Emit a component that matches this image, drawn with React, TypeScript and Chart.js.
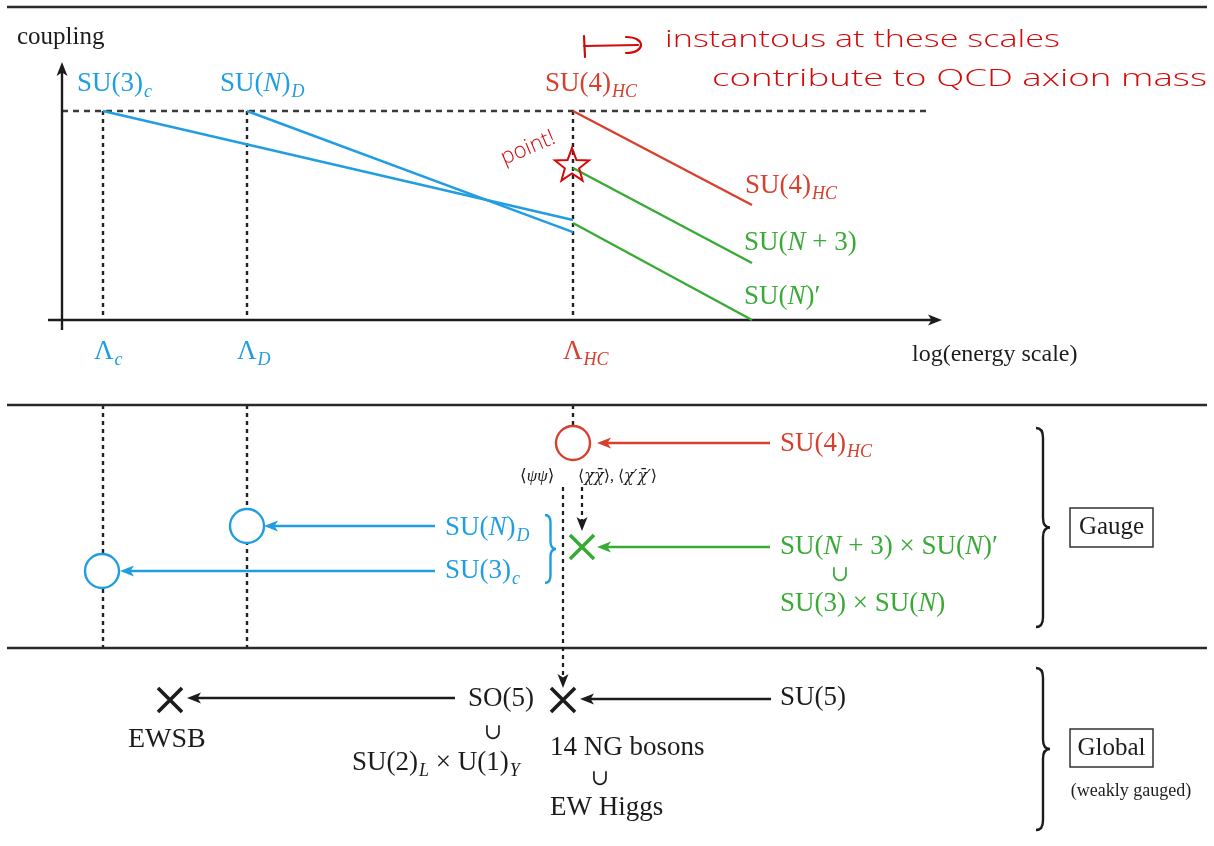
import React, { useEffect, useRef } from 'react';
import { Chart, registerables } from 'chart.js';
Chart.register(...registerables);

const W = 1214;
const H = 846;
const BLUE = '#219ee2';
const RED = '#d8402e';
const GREEN = '#3aaa36';
const INK = '#1c1c1c';
const PEN = '#d30a0a';
const SERIF = '"Liberation Serif", "DejaVu Serif", serif';

// ---- data (diagram coordinates: x = log(energy scale) position, y = coupling position) ----
const lambdaX = [103, 247, 573]; // Λc, ΛD, ΛHC
const couplingTopY = 111;
const axisY = 320;
const axisX = 62;

// running couplings [x0, y0, x1, y1]
const blueCouplings = [[lambdaX[0], 111, 573, 220], [lambdaX[1], 111, 573, 232]];
const redCouplings = [[lambdaX[2], 111, 752, 205]];
const greenCouplings = [[573, 168, 752, 263], [573, 223, 752, 320]];

// section rules
const ruleY = [7, 405, 648];
const ruleX = [7, 1207];

// dotted verticals [x, y0, y1]
const dottedLines = [
  [lambdaX[0], 111, 320], [lambdaX[1], 111, 320], [lambdaX[2], 111, 320],
  [lambdaX[0], 405, 648], [lambdaX[1], 405, 648], [lambdaX[2], 405, 426],
];

// arrows [x0, y0, x1(tip), y1(tip), colour]
const solidArrows: any[] = [
  [770, 443, 597, 443, RED],
  [770, 547, 597, 547, GREEN],
  [435, 526, 264, 526, BLUE],
  [435, 571, 120, 571, BLUE],
  [455, 698, 187, 698, INK],
  [771, 699, 580, 699, INK],
  [axisX, 330, axisX, 62, INK],
  [48, axisY, 942, axisY, INK],
];
const dashedArrows: any[] = [
  [582, 487, 582, 531, INK],
  [563, 487, 563, 688, INK],
];

// symmetry-breaking markers
const circleX = [573, 247, 102];
const circleY = [443, 526, 571];
const circleColor = [RED, BLUE, BLUE];
const crossX = [582, 170, 563];
const crossY = [547, 700, 700];
const crossColor = [GREEN, INK, INK];

// braces [x, y0, y1, width, colour]
const braces: any[] = [
  [1036, 428, 627, 14, INK],
  [1036, 668, 830, 14, INK],
  [545, 515, 583, 11, BLUE],
];
// boxed labels [x, y, w, h, text]
const boxes: any[] = [
  [1070, 508, 83, 39, 'Gauge'],
  [1070, 729, 83, 38, 'Global'],
];

type Seg = { t: string; it?: boolean; sub?: boolean; f?: string };
const S = (t: string): Seg => ({ t });
const I = (t: string): Seg => ({ t, it: true });
const B = (t: string): Seg => ({ t, sub: true, it: true });
const G = (t: string): Seg => ({ t, it: true, f: '"DejaVu Serif"' });

// text labels: segments, x, y, size, colour, align
const labels: any[] = [
  [[S('coupling')], 17, 37, 25, INK, 'left'],
  [[S('SU(3)'), B('c')], 77, 84, 27, BLUE, 'left'],
  [[S('SU('), I('N'), S(')'), B('D')], 220, 84, 27, BLUE, 'left'],
  [[S('SU(4)'), B('HC')], 545, 84, 27, RED, 'left'],
  [[S('SU(4)'), B('HC')], 745, 186, 27, RED, 'left'],
  [[S('SU('), I('N'), S(' + 3)')], 744, 243, 27, GREEN, 'left'],
  [[S('SU('), I('N'), S(')′')], 744, 297, 27, GREEN, 'left'],
  [[S('Λ'), B('c')], 94, 352, 27, BLUE, 'left'],
  [[S('Λ'), B('D')], 237, 352, 27, BLUE, 'left'],
  [[S('Λ'), B('HC')], 563, 352, 27, RED, 'left'],
  [[S('log(energy scale)')], 912, 355, 24, INK, 'left'],
  [[S('SU(4)'), B('HC')], 780, 444, 27, RED, 'left'],
  [[S('⟨'), I('ψψ'), S('⟩')], 520, 477, 17, INK, 'left'],
  [[S('⟨'), G('χχ̄'), S('⟩, ⟨'), G('χ′χ̄′'), S('⟩')], 578, 477, 16, INK, 'left'],
  [[S('SU('), I('N'), S(')'), B('D')], 445, 528, 27, BLUE, 'left'],
  [[S('SU(3)'), B('c')], 445, 571, 27, BLUE, 'left'],
  [[S('SU('), I('N'), S(' + 3) × SU('), I('N'), S(')′')], 780, 547, 27, GREEN, 'left'],
  [[S('∪')], 840, 575, 22, GREEN, 'center'],
  [[S('SU(3) × SU('), I('N'), S(')')], 780, 604, 27, GREEN, 'left'],
  [[S('EWSB')], 128, 740, 28, INK, 'left'],
  [[S('SO(5)')], 468, 699, 27, INK, 'left'],
  [[S('∪')], 493, 733, 22, INK, 'center'],
  [[S('SU(2)'), B('L'), S(' × U(1)'), B('Y')], 352, 763, 27, INK, 'left'],
  [[S('SU(5)')], 780, 698, 27, INK, 'left'],
  [[S('14 NG bosons')], 550, 748, 27, INK, 'left'],
  [[S('∪')], 600, 779, 22, INK, 'center'],
  [[S('EW Higgs')], 550, 808, 27, INK, 'left'],
  [[S('(weakly gauged)')], 1131, 791, 18, INK, 'center'],
];

// handwritten notes [text, x0, x1, y]
const notes: any[] = [
  ['instantous at these scales', 665, 1060, 40],
  ['contribute to QCD axion mass', 712, 1207, 79],
];
const starPoint = [572, 166];

function segFont(s: Seg, size: number) {
  const sz = s.sub ? Math.round(size * 0.68) : size;
  return `${s.it ? 'italic ' : ''}${sz}px ${s.f || SERIF}`;
}

function drawRich(ctx: CanvasRenderingContext2D, segs: Seg[], x: number, y: number, size: number, color: string, align: string) {
  ctx.save();
  ctx.textBaseline = 'middle';
  ctx.textAlign = 'left';
  ctx.fillStyle = color;
  let total = 0;
  const widths = segs.map((s) => {
    ctx.font = segFont(s, size);
    const w = ctx.measureText(s.t).width + (s.sub ? 1 : 0);
    total += w;
    return w;
  });
  let cx = align === 'center' ? x - total / 2 : x;
  segs.forEach((s, i) => {
    ctx.font = segFont(s, size);
    ctx.fillText(s.t, cx + (s.sub ? 1 : 0), s.sub ? y + size * 0.3 : y);
    cx += widths[i];
  });
  ctx.restore();
}

function arrowHead(ctx: CanvasRenderingContext2D, x0: number, y0: number, x1: number, y1: number, color: string) {
  const a = Math.atan2(y1 - y0, x1 - x0);
  const L = 14, hw = 5.5;
  ctx.save();
  ctx.fillStyle = color;
  ctx.beginPath();
  ctx.moveTo(x1, y1);
  ctx.lineTo(x1 - L * Math.cos(a) - hw * Math.sin(a), y1 - L * Math.sin(a) + hw * Math.cos(a));
  ctx.lineTo(x1 - L * 0.75 * Math.cos(a), y1 - L * 0.75 * Math.sin(a));
  ctx.lineTo(x1 - L * Math.cos(a) + hw * Math.sin(a), y1 - L * Math.sin(a) - hw * Math.cos(a));
  ctx.closePath();
  ctx.fill();
  ctx.restore();
}

function drawBrace(ctx: CanvasRenderingContext2D, x: number, y0: number, y1: number, w: number, color: string) {
  const ym = (y0 + y1) / 2;
  const xm = x + w / 2;
  const r = w * 0.7;
  ctx.save();
  ctx.strokeStyle = color;
  ctx.lineWidth = 2.4;
  ctx.beginPath();
  ctx.moveTo(x, y0);
  ctx.quadraticCurveTo(xm, y0, xm, y0 + r);
  ctx.lineTo(xm, ym - r);
  ctx.quadraticCurveTo(xm, ym, x + w, ym);
  ctx.quadraticCurveTo(xm, ym, xm, ym + r);
  ctx.lineTo(xm, y1 - r);
  ctx.quadraticCurveTo(xm, y1, x, y1);
  ctx.stroke();
  ctx.restore();
}

function lineDs(x0: number, y0: number, x1: number, y1: number, color: string, width: number, dash: number[] = []) {
  return {
    data: [{ x: x0, y: y0 }, { x: x1, y: y1 }],
    showLine: true,
    borderColor: color,
    borderWidth: width,
    borderDash: dash,
    pointRadius: 0,
    fill: false,
    tension: 0,
    clip: false,
  };
}

function shorten(a: any[]) {
  const [x0, y0, x1, y1] = a;
  const d = Math.hypot(x1 - x0, y1 - y0);
  return [x0, y0, x1 - ((x1 - x0) / d) * 10, y1 - ((y1 - y0) / d) * 10];
}

export default function App() {
  const ref = useRef<HTMLCanvasElement | null>(null);
  useEffect(() => {
    if (!ref.current) return;
    const datasets: any[] = [];
    // markers first (drawn on top)
    datasets.push({
      data: crossX.map((x, i) => ({ x, y: crossY[i] })),
      pointStyle: 'crossRot', pointRadius: 17, pointBorderWidth: 3.6,
      pointBorderColor: crossColor, showLine: false, clip: false,
    });
    datasets.push({
      data: circleX.map((x, i) => ({ x, y: circleY[i] })),
      pointStyle: 'circle', pointRadius: 17, pointBorderWidth: 2.4,
      pointBorderColor: circleColor, pointBackgroundColor: '#ffffff', showLine: false, clip: false,
    });
    blueCouplings.forEach((l) => datasets.push(lineDs(l[0], l[1], l[2], l[3], BLUE, 2.4)));
    redCouplings.forEach((l) => datasets.push(lineDs(l[0], l[1], l[2], l[3], RED, 2.4)));
    greenCouplings.forEach((l) => datasets.push(lineDs(l[0], l[1], l[2], l[3], GREEN, 2.4)));
    solidArrows.forEach((a) => {
      const s = shorten(a);
      datasets.push(lineDs(s[0], s[1], s[2], s[3], a[4], 2.4));
    });
    dashedArrows.forEach((a) => {
      const s = shorten(a);
      datasets.push(lineDs(s[0], s[1], s[2], s[3], a[4], 2.2, [4, 4]));
    });
    ruleY.forEach((y) => datasets.push(lineDs(ruleX[0], y, ruleX[1], y, '#2a2a2a', 2.4)));
    datasets.push(lineDs(axisX, couplingTopY, 930, couplingTopY, '#3a3a3a', 2.4, [6, 5]));
    dottedLines.forEach((d) => datasets.push(lineDs(d[0], d[1], d[0], d[2], '#222222', 2.4, [4, 4])));

    const overlay = {
      id: 'overlay',
      afterDatasetsDraw(chart: any) {
        const ctx: CanvasRenderingContext2D = chart.ctx;
        const X = (v: number) => chart.scales.x.getPixelForValue(v);
        const Y = (v: number) => chart.scales.y.getPixelForValue(v);
        [...solidArrows, ...dashedArrows].forEach((a: any[]) =>
          arrowHead(ctx, X(a[0]), Y(a[1]), X(a[2]), Y(a[3]), a[4]));
        braces.forEach((b: any[]) => drawBrace(ctx, X(b[0]), Y(b[1]), Y(b[2]), b[3], b[4]));
        boxes.forEach((b: any[]) => {
          ctx.save();
          ctx.strokeStyle = '#333';
          ctx.lineWidth = 1.5;
          ctx.strokeRect(X(b[0]), Y(b[1]), b[2], b[3]);
          ctx.restore();
          drawRich(ctx, [S(b[4])], X(b[0]) + b[2] / 2, Y(b[1]) + b[3] / 2, 25, INK, 'center');
        });
        labels.forEach((l: any[]) => drawRich(ctx, l[0], X(l[1]), Y(l[2]), l[3], l[4], l[5]));

        // handwritten annotations
        ctx.save();
        ctx.fillStyle = PEN;
        ctx.strokeStyle = PEN;
        ctx.textBaseline = 'middle';
        ctx.font = '300 23px "Open Sans", "DejaVu Sans"';
        notes.forEach((n: any[]) => {
          const w = ctx.measureText(n[0]).width;
          ctx.save();
          ctx.translate(X(n[1]), Y(n[3]));
          ctx.scale((X(n[2]) - X(n[1])) / w, 1);
          ctx.fillText(n[0], 0, 0);
          ctx.restore();
        });
        // hand-drawn arrow |->
        ctx.lineWidth = 2.2;
        ctx.lineCap = 'round';
        ctx.beginPath();
        ctx.moveTo(X(584), Y(36)); ctx.lineTo(X(585), Y(57));
        ctx.moveTo(X(584), Y(46)); ctx.lineTo(X(638), Y(45));
        ctx.moveTo(X(626), Y(37));
        ctx.bezierCurveTo(X(646), Y(37), X(646), Y(53), X(626), Y(53));
        ctx.stroke();
        // "point!"
        ctx.save();
        ctx.translate(X(528), Y(148));
        ctx.rotate(-0.4);
        ctx.font = '300 22px "Open Sans", "DejaVu Sans"';
        ctx.textAlign = 'center';
        ctx.fillText('point!', 0, 0);
        ctx.restore();
        // star
        const cx = X(starPoint[0]), cy = Y(starPoint[1]);
        ctx.lineWidth = 2;
        ctx.beginPath();
        for (let k = 0; k < 10; k++) {
          const r = k % 2 === 0 ? 18 : 7.5;
          const ang = -Math.PI / 2 + (k * Math.PI) / 5;
          const px = cx + r * Math.cos(ang), py = cy + r * Math.sin(ang);
          if (k === 0) ctx.moveTo(px, py); else ctx.lineTo(px, py);
        }
        ctx.closePath();
        ctx.stroke();
        ctx.restore();
      },
    };

    const chart = new Chart(ref.current, {
      type: 'scatter',
      data: { datasets },
      options: {
        animation: false,
        responsive: false,
        events: [],
        layout: { padding: 0, autoPadding: false },
        plugins: { legend: { display: false }, tooltip: { enabled: false } },
        scales: {
          x: { type: 'linear', min: 0, max: W, display: false },
          y: { type: 'linear', min: 0, max: H, reverse: true, display: false },
        },
      },
      plugins: [overlay],
    } as any);
    return () => chart.destroy();
  }, []);

  return (
    <div style={{ position: 'absolute', left: 0, top: 0, width: W, height: H, background: '#fff' }}>
      <canvas ref={ref} width={W} height={H} style={{ display: 'block' }} />
    </div>
  );
}
